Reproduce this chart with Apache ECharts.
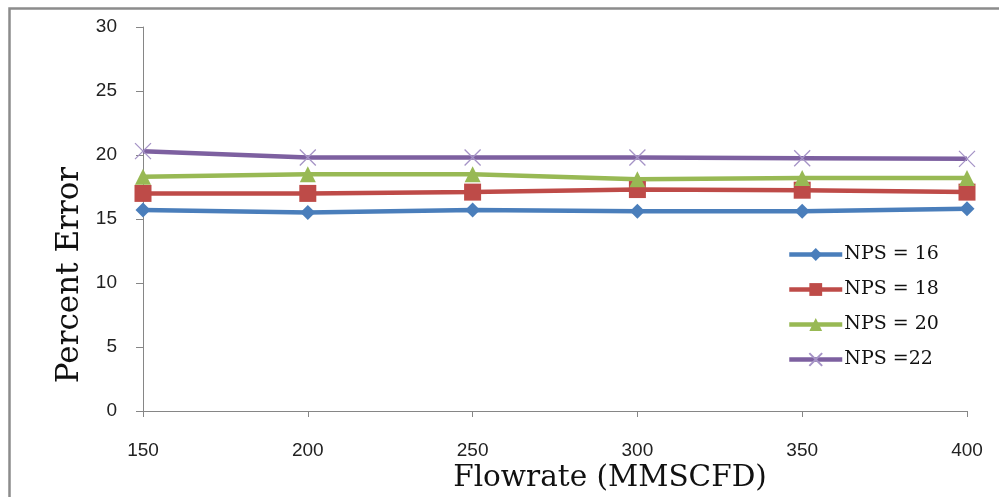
<!DOCTYPE html>
<html>
<head>
<meta charset="utf-8">
<script src="https://cdn.jsdelivr.net/npm/echarts@6/dist/echarts.min.js"></script>
<style>
  html, body { margin: 0; padding: 0; background: #fff; }
  #chart { width: 999px; height: 497px; }
</style>
</head>
<body>
<div id="chart"></div>
<script>
// Flowrate (MMSCFD) on the x axis
var flowrates = [150, 200, 250, 300, 350, 400];
// Percent error for each pipe size
var nps16 = [15.7, 15.5, 15.7, 15.6, 15.6, 15.8];
var nps18 = [17.0, 17.0, 17.1, 17.3, 17.25, 17.1];
var nps20 = [18.3, 18.5, 18.5, 18.1, 18.2, 18.2];
var nps22 = [20.3, 19.8, 19.8, 19.8, 19.75, 19.7];
var seriesNames = ['NPS = 16', 'NPS = 18', 'NPS = 20', 'NPS =22'];
var yTicks = [0, 5, 10, 15, 20, 25, 30];

function pairs(vals) {
  return flowrates.map(function (x, i) { return [x, vals[i]]; });
}

var serif = '"DejaVu Serif", "Liberation Serif", serif';
var sans = '"Liberation Sans", Arial, sans-serif';
var axisGrey = '#868686';

var chart = echarts.init(document.getElementById('chart'));

function lineSeries(name, vals, color, symbol, size, extraItem) {
  return {
    name: name,
    type: 'line',
    data: pairs(vals),
    symbol: symbol,
    symbolSize: size,
    showAllSymbol: true,
    clip: false,
    lineStyle: { color: color, width: 4.5 },
    itemStyle: Object.assign({ color: color }, extraItem || {}),
    emphasis: { disabled: true },
    z: 2
  };
}

chart.setOption({
  animation: false,
  backgroundColor: '#fff',
  grid: { left: 143, right: 32, top: 27, bottom: 86 },
  legend: {
    orient: 'vertical',
    left: 782,
    top: 240,
    itemWidth: 53,
    itemHeight: 16,
    itemGap: 16,
    data: seriesNames,
    lineStyle: { width: 4.5 },
    textStyle: { fontFamily: serif, fontSize: 19, color: '#111', padding: [0, 0, 0, -3] }
  },
  xAxis: {
    type: 'value',
    min: 150,
    max: 400,
    interval: 50,
    axisLine: { show: true, lineStyle: { color: axisGrey, width: 1 } },
    axisTick: { show: true, length: 6, inside: false, lineStyle: { color: axisGrey } },
    splitLine: { show: false },
    axisLabel: { margin: 30, fontFamily: sans, fontSize: 19, color: '#222' }
  },
  yAxis: {
    type: 'value',
    min: yTicks[0],
    max: yTicks[yTicks.length - 1],
    interval: 5,
    axisLine: { show: true, lineStyle: { color: axisGrey, width: 1 } },
    axisTick: { show: true, length: 7, inside: false, lineStyle: { color: axisGrey } },
    splitLine: { show: false },
    axisLabel: { margin: 26, fontFamily: sans, fontSize: 19, color: '#222' }
  },
  graphic: [
    {
      type: 'polyline',
      shape: { points: [[9.5, 497], [9.5, 8.5], [999, 8.5]] },
      style: { stroke: '#8c8c8c', lineWidth: 2.5, fill: null },
      silent: true
    },
    {
      type: 'text',
      x: 610,
      y: 478,
      style: {
        text: 'Flowrate (MMSCFD)',
        font: '29.5px ' + serif,
        fill: '#111',
        textAlign: 'center',
        textVerticalAlign: 'middle'
      },
      silent: true
    },
    {
      type: 'text',
      x: 70,
      y: 275,
      rotation: Math.PI / 2,
      style: {
        text: 'Percent Error',
        font: '31px ' + serif,
        fill: '#111',
        textAlign: 'center',
        textVerticalAlign: 'middle'
      },
      silent: true
    }
  ],
  series: [
    lineSeries(seriesNames[0], nps16, '#4a7ebb', 'diamond', 15),
    lineSeries(seriesNames[1], nps18, '#be4b48', 'rect', 17),
    lineSeries(seriesNames[2], nps20, '#98b954', 'triangle', 16),
    lineSeries(seriesNames[3], nps22, '#7d60a0', 'path://M0,0L10,10M10,0L0,10', 16,
      { color: 'rgba(0,0,0,0)', borderColor: '#a593c6', borderWidth: 1.3 })
  ]
});
</script>
</body>
</html>
